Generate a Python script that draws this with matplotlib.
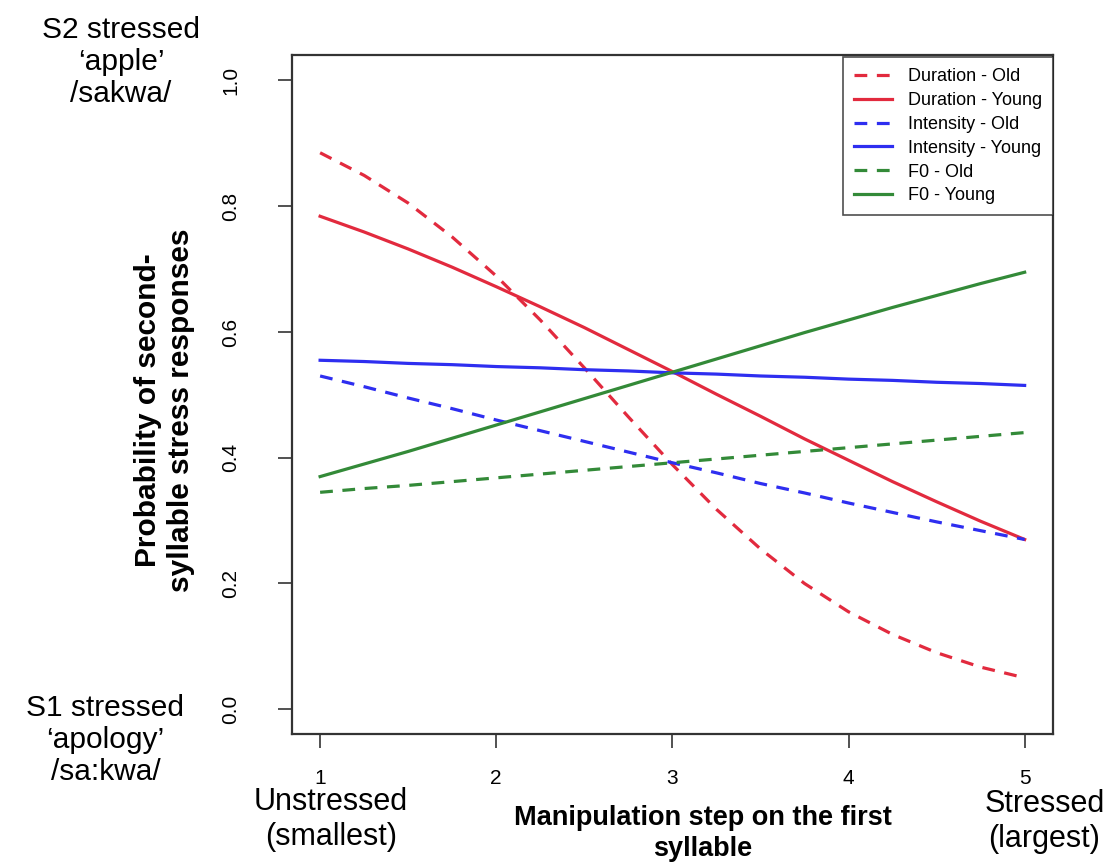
#!/usr/bin/env python3
"""Stress perception curves: probability of second-syllable stress by manipulation step."""

import matplotlib

matplotlib.use("Agg")
import matplotlib.pyplot as plt

# manipulation steps (read at quarter steps so the curves keep their shape)
steps = [1.0, 1.25, 1.5, 1.75, 2.0, 2.25, 2.5, 2.75, 3.0,
         3.25, 3.5, 3.75, 4.0, 4.25, 4.5, 4.75, 5.0]

duration_old = [0.885, 0.849, 0.805, 0.751, 0.689, 0.619, 0.543, 0.465, 0.389,
                0.318, 0.255, 0.200, 0.155, 0.119, 0.090, 0.067, 0.050]
duration_young = [0.784, 0.759, 0.732, 0.703, 0.672, 0.640, 0.607, 0.572, 0.537,
                  0.501, 0.466, 0.430, 0.396, 0.362, 0.330, 0.299, 0.270]
intensity_old = [0.530, 0.513, 0.495, 0.478, 0.460, 0.443, 0.426, 0.409, 0.392,
                 0.376, 0.359, 0.344, 0.328, 0.313, 0.298, 0.284, 0.270]
intensity_young = [0.555, 0.553, 0.550, 0.548, 0.545, 0.543, 0.540, 0.538, 0.535,
                   0.533, 0.530, 0.528, 0.525, 0.523, 0.520, 0.518, 0.515]
f0_old = [0.345, 0.351, 0.356, 0.362, 0.368, 0.374, 0.380, 0.386, 0.392,
          0.398, 0.404, 0.410, 0.416, 0.422, 0.428, 0.434, 0.440]
f0_young = [0.370, 0.390, 0.410, 0.431, 0.452, 0.473, 0.494, 0.515, 0.536,
            0.557, 0.578, 0.599, 0.619, 0.639, 0.658, 0.677, 0.695]

series = [
    ("Duration - Old", duration_old),
    ("Duration - Young", duration_young),
    ("Intensity - Old", intensity_old),
    ("Intensity - Young", intensity_young),
    ("F0 - Old", f0_old),
    ("F0 - Young", f0_young),
]

x_ticks = [1, 2, 3, 4, 5]
y_ticks = [0.0, 0.2, 0.4, 0.6, 0.8, 1.0]

RED = "#e22a3e"
BLUE = "#2e2ef0"
GREEN = "#338a38"
colors = [RED, RED, BLUE, BLUE, GREEN, GREEN]
FONT = ["Liberation Sans", "DejaVu Sans"]


def main() -> None:
    fig = plt.figure(figsize=(11.10, 8.64), dpi=100)
    ax = fig.add_axes([0.263, 0.150, 0.6855, 0.786])

    for (label, values), color in zip(series, colors):
        dashed = label.endswith("Old")
        line, = ax.plot(steps, values, color=color, linewidth=2.3, label=label,
                        linestyle="--" if dashed else "-")
        if dashed:
            line.set_dashes((4, 3))

    ax.set_xlim(0.84, 5.16)
    ax.set_ylim(-0.04, 1.04)
    ax.set_xticks(x_ticks)
    ax.set_yticks(y_ticks)
    ax.set_xticklabels([str(t) for t in x_ticks], family=FONT, fontsize=15)
    ax.set_yticklabels([f"{t:.1f}" for t in y_ticks], family=FONT, fontsize=15,
                       rotation=90, va="center")
    ax.tick_params(axis="both", length=10, width=1.2, color="#333333", direction="out")
    ax.tick_params(axis="x", pad=15)
    ax.tick_params(axis="y", pad=27)
    for spine in ax.spines.values():
        spine.set_linewidth(1.6)
        spine.set_color("#333333")

    legend = ax.legend(loc="upper right", bbox_to_anchor=(1.0, 0.997), frameon=True,
                       fancybox=False, prop={"family": FONT, "size": 13},
                       handlelength=2.1, labelspacing=0.38, borderpad=0.6,
                       handletextpad=0.9, borderaxespad=0.0)
    legend.get_frame().set_edgecolor("#222222")
    legend.get_frame().set_linewidth(1.2)

    # axis titles
    fig.text(0.148, 0.525, "Probability of second-\nsyllable stress responses",
             rotation=90, ha="center", va="center", fontsize=21.5, fontweight="bold",
             family=FONT, linespacing=1.25)
    fig.text(0.633, 0.035, "Manipulation step on the first\nsyllable",
             ha="center", va="center", fontsize=19.5, fontweight="bold",
             family=FONT, linespacing=1.25)

    # anchor labels
    fig.text(0.109, 0.928, "S2 stressed\n\u2018apple\u2019\n/sakwa/", ha="center",
             va="center", fontsize=21.5, family=FONT, linespacing=1.18)
    fig.text(0.095, 0.143, "S1 stressed\n\u2018apology\u2019\n/sa:kwa/", ha="center",
             va="center", fontsize=21.5, family=FONT, linespacing=1.18)
    fig.text(0.298, 0.051, "Unstressed\n(smallest)", ha="center", va="center",
             fontsize=22, family=FONT, linespacing=1.22)
    fig.text(0.941, 0.049, "Stressed\n(largest)", ha="center", va="center",
             fontsize=22, family=FONT, linespacing=1.22)

    fig.savefig("out.png", dpi=100, facecolor="white")
    plt.close(fig)


if __name__ == "__main__":
    main()
